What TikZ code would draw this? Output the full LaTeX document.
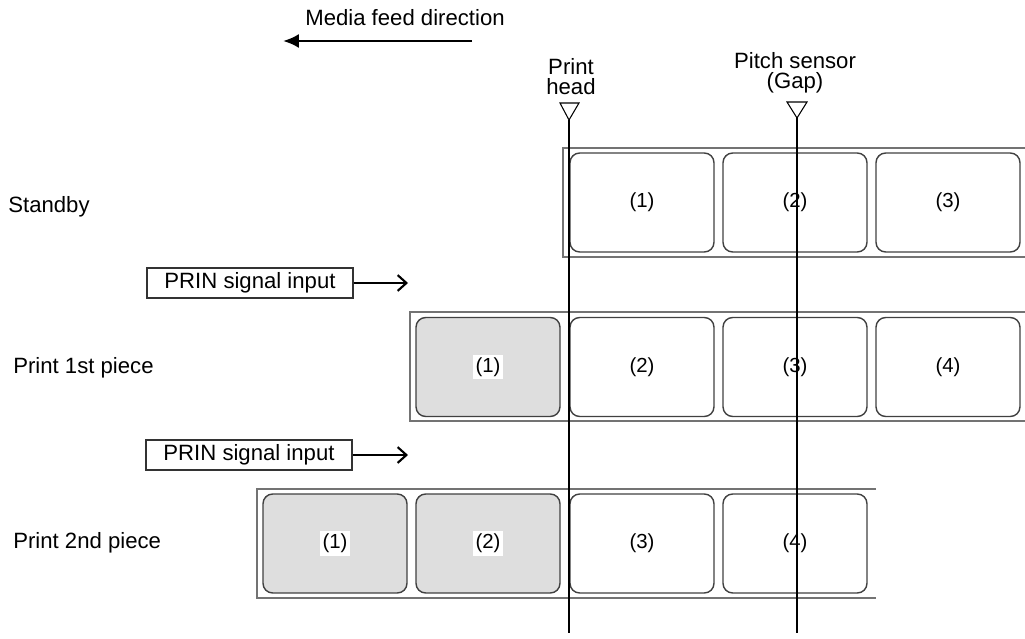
\documentclass[tikz,border=0pt]{standalone}
\usepackage{fontspec}
\setmainfont{Liberation Sans}
\usetikzlibrary{arrows.meta}

\tikzset{
    pieza/.style={draw=black!75, line width=0.8pt, rounded corners=5.5pt,
        minimum width=2.88cm, minimum height=1.98cm, inner sep=0pt},
    impresa/.style={pieza, fill=black!13},
    numero/.style={fill=white, inner sep=1.5pt, font=\fontsize{11.6}{13}\selectfont},
    tira/.style={draw=black!55, line width=1.1pt},
    senal/.style={draw=black!80, line width=0.7pt, minimum width=4.12cm,
        minimum height=0.6cm, inner sep=0pt},
    flecha/.style={line width=1.2pt, -{Straight Barb[length=5pt, width=9pt, line width=1.2pt]}}
}

\begin{document}
\begin{tikzpicture}[x=0.02cm, y=-0.02cm, font=\fontsize{12.6}{11.4}\selectfont]

    \useasboundingbox (0,0) rectangle (1025,639);

    % sentido de avance
    \node (medio) at (405,18) {Media feed direction};
    \coordinate (m0) at (472,41);
    \coordinate (m1) at (283,41);
    \draw[line width=1.6pt, -{Latex[length=9pt, width=8pt]}] (m0) -- (m1);

    % cabezal y sensor
    \node[align=center] (cabezaT) at (571,77) {Print\\head};
    \node[align=center] (sensorT) at (795,73) {Pitch sensor\\(Gap)};
    \draw[line width=0.6pt] (560,103) -- (579,103) -- (569,120) -- cycle;
    \draw[line width=0.6pt] (787,102) -- (807,102) -- (797,118) -- cycle;
    \coordinate (cabeza) at (569,120);
    \coordinate (sensor) at (797,118);
    \coordinate (cabezaF) at (569,633);
    \coordinate (sensorF) at (797,633);

    % filas
    \node[anchor=west, inner sep=0pt] (fila1) at (8,207) {Standby};
    \node[anchor=west, inner sep=0pt] (fila2) at (13,368) {Print 1st piece};
    \node[anchor=west, inner sep=0pt] (fila3) at (13,543) {Print 2nd piece};

    \draw[tira] (1025,148) -- (563,148) -- (563,257) -- (1025,257);
    \draw[tira] (1025,312) -- (410,312) -- (410,421) -- (1025,421);
    \draw[tira] (876,489) -- (257,489) -- (257,598) -- (876,598);

    \foreach \x/\n in {
        642/1,
        795/2,
        948/3%
    } {
        \node[pieza] (a\n) at (\x,202.5) {};
        \node[numero] at (a\n) {(\n)};
    }

    \node[impresa] (b1) at (488,367) {};
    \node[numero] at (b1) {(1)};
    \foreach \x/\n in {
        642/2,
        795/3,
        948/4%
    } {
        \node[pieza] (b\n) at (\x,367) {};
        \node[numero] at (b\n) {(\n)};
    }

    \foreach \x/\n in {
        335/1,
        488/2%
    } {
        \node[impresa] (c\n) at (\x,543.5) {};
        \node[numero] at (c\n) {(\n)};
    }
    \foreach \x/\n in {
        642/3,
        795/4%
    } {
        \node[pieza] (c\n) at (\x,543.5) {};
        \node[numero] at (c\n) {(\n)};
    }

    % entradas PRIN
    \node[senal] (prin1) at (250,283) {PRIN signal input};
    \node[senal] (prin2) at (249,455) {PRIN signal input};
    \coordinate (f1) at (408,283);
    \coordinate (f2) at (408,455);
    \draw[flecha] (prin1) -- (f1);
    \draw[flecha] (prin2) -- (f2);

    \draw[line width=0.8pt] (cabeza) -- (cabezaF);
    \draw[line width=0.8pt] (sensor) -- (sensorF);

\end{tikzpicture}
\end{document}
